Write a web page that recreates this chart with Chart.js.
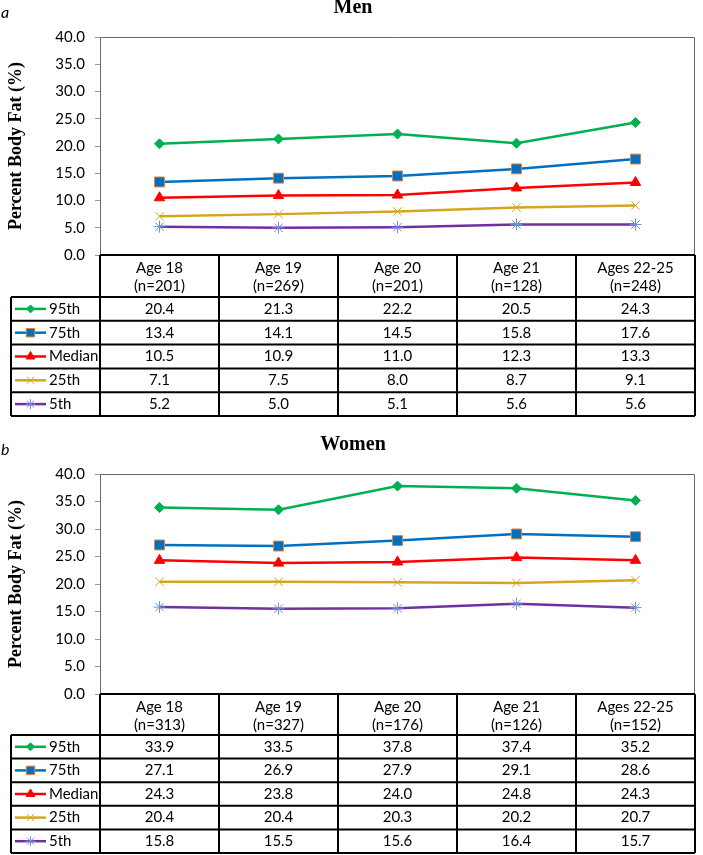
<!DOCTYPE html>
<html>
<head>
<meta charset="utf-8">
<script src="https://cdn.jsdelivr.net/npm/chart.js@4.4.1/dist/chart.umd.min.js"></script>
<style>
  body { margin: 0; background: #fff; }
  canvas { display: block; }
</style>
</head>
<body>
<canvas id="menChart" width="703" height="420"></canvas>
<canvas id="womenChart" width="703" height="435"></canvas>
<script>
// data
const ageGroups = ['Age 18', 'Age 19', 'Age 20', 'Age 21', 'Ages 22-25'];
const menN = [201, 269, 201, 128, 248];
const womenN = [313, 327, 176, 126, 152];
const seriesNames = ['95th', '75th', 'Median', '25th', '5th'];

const men95 = [20.4, 21.3, 22.2, 20.5, 24.3];
const men75 = [13.4, 14.1, 14.5, 15.8, 17.6];
const menMedian = [10.5, 10.9, 11.0, 12.3, 13.3];
const men25 = [7.1, 7.5, 8.0, 8.7, 9.1];
const men5 = [5.2, 5.0, 5.1, 5.6, 5.6];

const women95 = [33.9, 33.5, 37.8, 37.4, 35.2];
const women75 = [27.1, 26.9, 27.9, 29.1, 28.6];
const womenMedian = [24.3, 23.8, 24.0, 24.8, 24.3];
const women25 = [20.4, 20.4, 20.3, 20.2, 20.7];
const women5 = [15.8, 15.5, 15.6, 16.4, 15.7];

const yMin = 0, yMax = 40, yStep = 5;

// one style per series (line colour, marker); k = marker size in the table key
const styles = [
  { line: '#00B050', fill: '#00B050', edge: '#00B050', point: 'rectRot', r: 5, k: 4 },
  { line: '#0070C0', fill: '#0070C0', edge: '#ED7D31', point: 'rect', r: 7, k: 6 },
  { line: '#FF0000', fill: '#FF0000', edge: '#FF0000', point: 'triangle', r: 6, k: 5 },
  { line: '#D6A520', fill: '#D6A520', edge: '#D6A520', point: 'crossRot', r: 6, k: 5 },
  { line: '#7030A0', fill: '#6E8FE0', edge: '#6E8FE0', point: 'star', r: 6, k: 5 }
];

const bodyFont = 'Lato, "Liberation Sans", sans-serif';

// draws panel letter, title, plot frame and the data table under the plot
const tablePlugin = {
  id: 'panelTable',
  afterDraw(chart, args, opts) {
    const ctx = chart.ctx;
    const a = chart.chartArea;
    const xs = chart.scales.x;
    const labels = chart.data.labels;
    const n = labels.length;

    ctx.save();
    // letter + title
    ctx.fillStyle = '#000';
    ctx.textBaseline = 'middle';
    ctx.textAlign = 'left';
    ctx.font = 'italic 16px ' + bodyFont;
    ctx.fillText(opts.tag, 1, a.top - 24);
    ctx.textAlign = 'center';
    ctx.font = 'bold 20px "Liberation Serif", serif';
    ctx.fillText(opts.title, 353, a.top - 29);

    // plot frame
    ctx.strokeStyle = '#6b6b6b';
    ctx.lineWidth = 1;
    ctx.beginPath();
    ctx.moveTo(a.left + 0.5, a.bottom);
    ctx.lineTo(a.left + 0.5, a.top + 0.5);
    ctx.lineTo(a.right - 0.5, a.top + 0.5);
    ctx.lineTo(a.right - 0.5, a.bottom);
    ctx.stroke();

    // column edges from the category scale
    const edges = [a.left];
    for (let i = 1; i < n; i++) {
      edges.push((xs.getPixelForValue(i - 1) + xs.getPixelForValue(i)) / 2);
    }
    edges.push(a.right);

    const tLeft = 11;
    const hTop = a.bottom;
    const hBot = hTop + opts.headerH;
    const rows = chart.data.datasets.length;
    const tBot = hBot + rows * opts.rowH;

    ctx.strokeStyle = '#000';
    ctx.lineWidth = 2;
    ctx.beginPath();
    ctx.moveTo(a.left, hTop); ctx.lineTo(a.right, hTop);
    for (let r = 0; r <= rows; r++) {
      const y = hBot + r * opts.rowH;
      ctx.moveTo(tLeft, y); ctx.lineTo(a.right, y);
    }
    edges.forEach(x => { ctx.moveTo(x, hTop); ctx.lineTo(x, tBot); });
    ctx.moveTo(tLeft, hBot); ctx.lineTo(tLeft, tBot);
    ctx.stroke();

    // header text
    ctx.fillStyle = '#000';
    ctx.font = '15px ' + bodyFont;
    ctx.textAlign = 'center';
    labels.forEach((lab, i) => {
      const cx = xs.getPixelForValue(i);
      ctx.fillText(lab[0], cx, hTop + 13);
      ctx.fillText(lab[1], cx, hTop + 31);
    });

    // rows
    chart.data.datasets.forEach((ds, r) => {
      const cy = hBot + r * opts.rowH + opts.rowH / 2;
      const st = styles[r];
      ctx.strokeStyle = st.line;
      ctx.lineWidth = 2.5;
      ctx.beginPath();
      ctx.moveTo(15, cy); ctx.lineTo(46, cy);
      ctx.stroke();
      ctx.fillStyle = st.fill;
      ctx.strokeStyle = st.edge;
      ctx.lineWidth = 1;
      Chart.helpers.drawPoint(ctx, { pointStyle: st.point, radius: st.k, borderWidth: 1, rotation: 0 }, 30.5, cy);

      ctx.fillStyle = '#000';
      ctx.textAlign = 'left';
      ctx.fillText(ds.label, 49, cy);
      ctx.textAlign = 'center';
      ds.data.forEach((v, i) => {
        ctx.fillText(v.toFixed(1), xs.getPixelForValue(i), cy);
      });
    });
    ctx.restore();
  }
};

function makeChart(id, ns, values, panel) {
  const labels = ageGroups.map((g, i) => [g, '(n=' + ns[i] + ')']);
  const datasets = values.map((vals, k) => ({
    label: seriesNames[k],
    data: vals,
    borderColor: styles[k].line,
    borderWidth: 2.5,
    pointStyle: styles[k].point,
    pointRadius: styles[k].r,
    pointBackgroundColor: styles[k].fill,
    pointBorderColor: styles[k].edge,
    pointBorderWidth: 1,
    tension: 0,
    clip: false
  }));

  return new Chart(document.getElementById(id).getContext('2d'), {
    type: 'line',
    data: { labels, datasets },
    options: {
      responsive: false,
      animation: false,
      layout: { padding: { top: panel.top, right: 1, bottom: panel.bottom, left: 0 } },
      plugins: {
        legend: { display: false },
        tooltip: { enabled: false },
        panelTable: panel
      },
      scales: {
        x: { type: 'category', display: false, offset: true },
        y: {
          min: yMin,
          max: yMax,
          ticks: {
            stepSize: yStep,
            callback: v => v.toFixed(1),
            color: '#000',
            font: { family: bodyFont, size: 15 },
            padding: 10
          },
          grid: { drawOnChartArea: false, drawTicks: true, tickLength: 5, color: '#999' },
          border: { display: true, color: '#6b6b6b', width: 1 },
          title: {
            display: true,
            text: 'Percent Body Fat (%)',
            color: '#000',
            font: { family: '"Liberation Serif", serif', size: 18, weight: 'bold' },
            padding: { top: 6, bottom: 0 }
          },
          afterFit(scale) { scale.width = 100; }
        }
      }
    },
    plugins: [tablePlugin]
  });
}

makeChart('menChart', menN, [men95, men75, menMedian, men25, men5],
  { tag: 'a', title: 'Men', top: 37, bottom: 165, headerH: 42, rowH: 23.8 });
makeChart('womenChart', womenN, [women95, women75, womenMedian, women25, women5],
  { tag: 'b', title: 'Women', top: 54, bottom: 161, headerH: 41, rowH: 23.6 });
</script>
</body>
</html>
